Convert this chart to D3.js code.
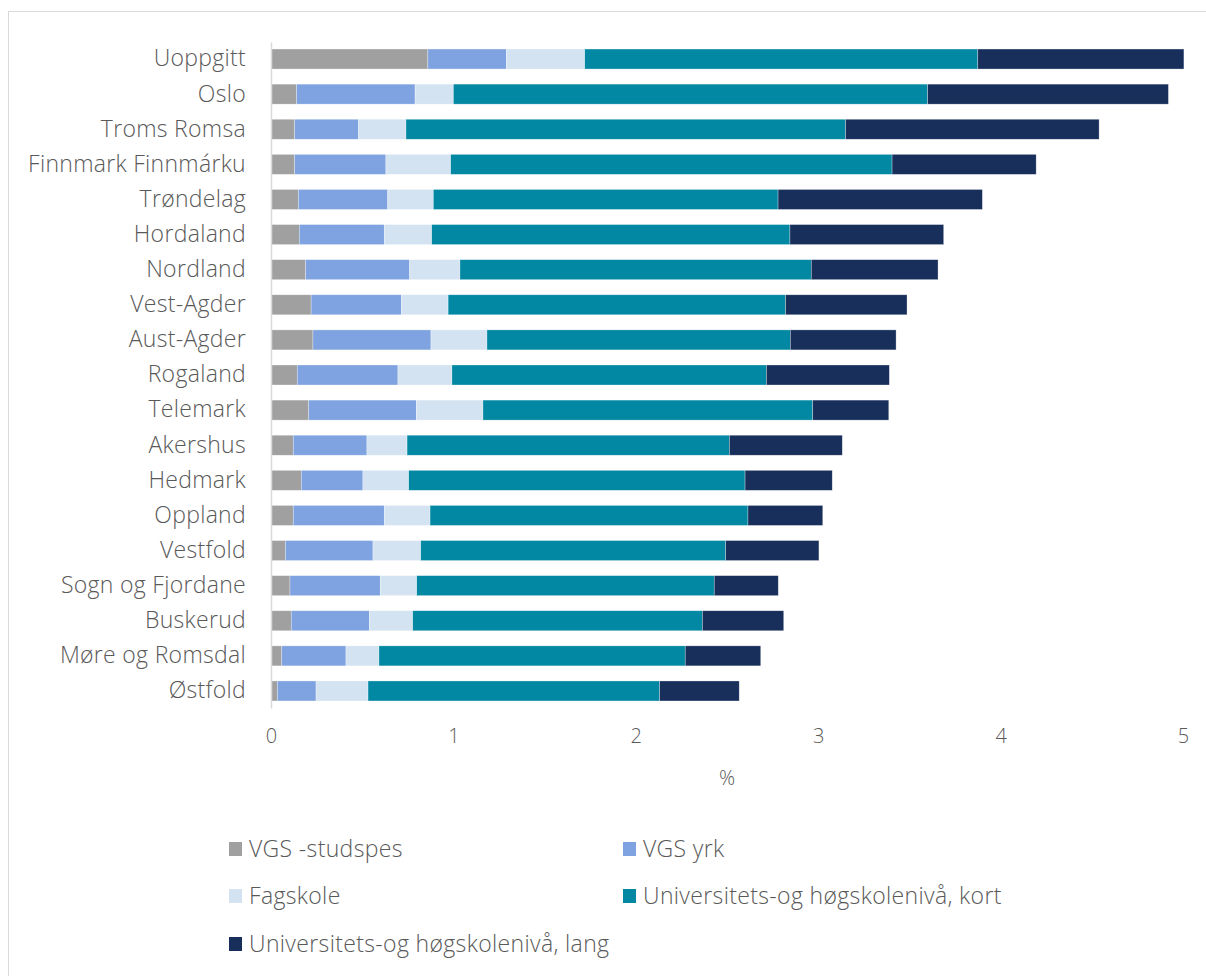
<!DOCTYPE html>
<html lang="en">
<head>
    <meta charset="UTF-8">
    <title>Utdanningsnivå etter fylke</title>
    <script src="https://d3js.org/d3.v7.min.js"></script>
    <style>
        body { margin: 0; background: #fff; }
        text { font-family: "Open Sans", sans-serif; font-weight: 300; fill: #595959; }
        .tick text { font-size: 20px; }
        .cat text { font-size: 23px; letter-spacing: 0.3px; }
        .legend text { font-size: 23px; letter-spacing: 0.35px; }
    </style>
</head>
<body>
    <script>
        const regions = ["Uoppgitt", "Oslo", "Troms Romsa", "Finnmark Finnmárku", "Trøndelag", "Hordaland",
            "Nordland", "Vest-Agder", "Aust-Agder", "Rogaland", "Telemark", "Akershus", "Hedmark",
            "Oppland", "Vestfold", "Sogn og Fjordane", "Buskerud", "Møre og Romsdal", "Østfold"]

        const seriesNames = ["VGS -studspes", "VGS yrk", "Fagskole",
            "Universitets-og høgskolenivå, kort", "Universitets-og høgskolenivå, lang"]

        const vgsStudspes = [0.86, 0.14, 0.13, 0.13, 0.15, 0.155, 0.19, 0.22, 0.23, 0.144,
            0.207, 0.122, 0.166, 0.122, 0.079, 0.104, 0.111, 0.059, 0.035]
        const vgsYrk = [0.43, 0.65, 0.35, 0.50, 0.49, 0.466, 0.57, 0.495, 0.647, 0.552,
            0.59, 0.404, 0.338, 0.499, 0.48, 0.495, 0.428, 0.352, 0.212]
        const fagskole = [0.43, 0.21, 0.26, 0.355, 0.25, 0.26, 0.276, 0.256, 0.307, 0.296,
            0.365, 0.22, 0.251, 0.251, 0.262, 0.2, 0.238, 0.181, 0.285]
        const uhKort = [2.155, 2.60, 2.41, 2.42, 1.89, 1.964, 1.926, 1.85, 1.663, 1.724,
            1.808, 1.767, 1.844, 1.743, 1.672, 1.631, 1.588, 1.679, 1.599]
        const uhLang = [1.13, 1.32, 1.39, 0.79, 1.12, 0.843, 0.695, 0.666, 0.58, 0.674,
            0.417, 0.619, 0.478, 0.41, 0.511, 0.351, 0.446, 0.414, 0.436]

        const xTicks = [0, 1, 2, 3, 4, 5]
        const colors = ["#a0a0a0", "#7fa3e0", "#d3e3f2", "#0288a2", "#182f5c"]

        const values = [vgsStudspes, vgsYrk, fagskole, uhKort, uhLang]
        const table = regions.map((r, i) => {
            const row = {region: r}
            seriesNames.forEach((s, j) => row[s] = values[j][i])
            return row
        })
        const stacked = d3.stack().keys(seriesNames)(table)

        const W = 1206, H = 976
        const margin = {top: 42, left: 271, right: 23}
        const plotH = 666

        const svg = d3.select("body").append("svg")
            .attr("width", W)
            .attr("height", H)

        // chart frame
        svg.append("rect")
            .attr("x", 8.5).attr("y", 11.5)
            .attr("width", W).attr("height", H)
            .attr("fill", "none").attr("stroke", "#d9d9d9")

        const x = d3.scaleLinear()
            .domain([0, 5])
            .range([margin.left, W - margin.right])

        const y = d3.scaleBand()
            .domain(regions)
            .range([margin.top, margin.top + plotH])
            .paddingInner(0.43)
            .paddingOuter(0.2)

        svg.append("g")
            .selectAll("g")
            .data(stacked)
            .join("g")
            .attr("fill", (d, i) => colors[i])
            .selectAll("rect")
            .data(d => d)
            .join("rect")
            .attr("x", d => x(d[0]))
            .attr("y", d => y(d.data.region))
            .attr("width", d => x(d[1]) - x(d[0]))
            .attr("height", y.bandwidth())
            .attr("stroke", "#fff")
            .attr("stroke-opacity", 0.5)
            .attr("stroke-width", 0.6)

        // category axis
        const yAxis = svg.append("g")
            .attr("class", "cat")
            .attr("transform", `translate(${margin.left},0)`)
            .call(d3.axisLeft(y).tickSize(0).tickPadding(25))
        yAxis.select(".domain").attr("stroke", "#d9d9d9").attr("stroke-width", 1.5)
        yAxis.selectAll("text").attr("fill", "#595959")

        // value axis (labels only)
        const xAxis = svg.append("g")
            .attr("transform", `translate(0,${margin.top + plotH})`)
            .call(d3.axisBottom(x).tickValues(xTicks).tickFormat(d3.format("d")).tickSize(0).tickPadding(21))
        xAxis.select(".domain").remove()
        xAxis.selectAll("text").attr("fill", "#595959")

        svg.append("text")
            .attr("x", 727)
            .attr("y", 785)
            .attr("text-anchor", "middle")
            .style("font-size", "20px")
            .text("%")

        // legend
        const legendPos = [[229, 849], [623, 849], [229, 896], [623, 896], [229, 944]]
        const legend = svg.append("g")
            .attr("class", "legend")
            .selectAll("g")
            .data(seriesNames)
            .join("g")
            .attr("transform", (d, i) => `translate(${legendPos[i][0]},${legendPos[i][1]})`)
        legend.append("rect")
            .attr("x", 0).attr("y", -7)
            .attr("width", 13).attr("height", 14)
            .attr("fill", (d, i) => colors[i])
        legend.append("text")
            .attr("x", 20)
            .attr("dy", "0.35em")
            .text(d => d)
    </script>
</body>
</html>
